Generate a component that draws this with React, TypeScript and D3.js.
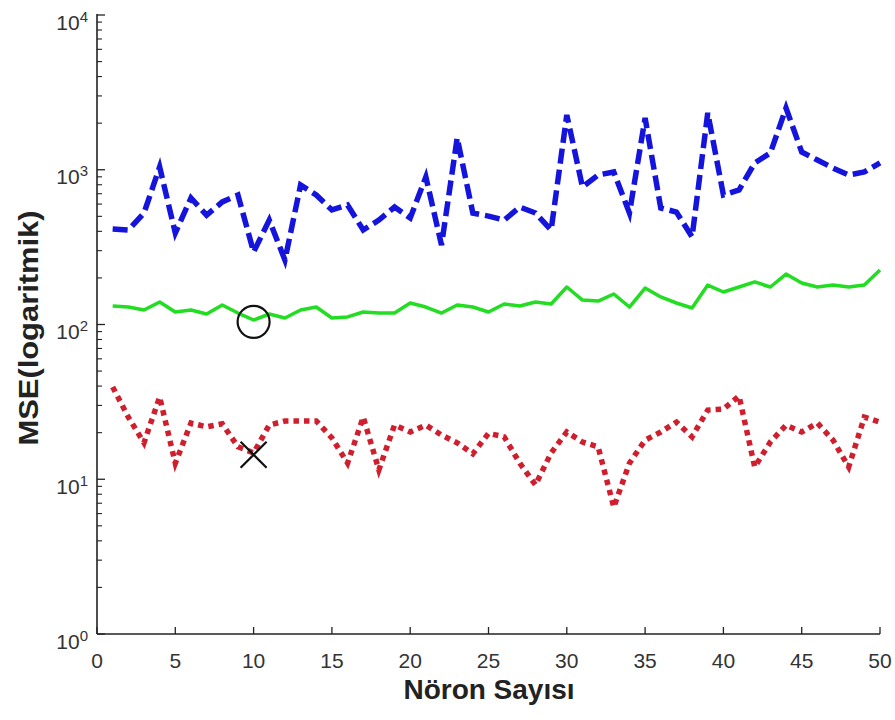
import React, { useEffect, useRef } from "react";
import * as d3 from "d3";

const neurons = d3.range(1, 51);
const blueSeries = [414, 408, 525, 1042, 390, 657, 509, 620, 687, 294, 473, 261, 797, 687, 550, 592, 408, 473, 574, 488, 898, 326, 1604, 525, 502, 473, 574, 525, 408, 2259, 774, 925, 967, 525, 2159, 566, 533, 368, 2328, 687, 740, 1106, 1283, 2506, 1303, 1156, 1026, 925, 967, 1106];
const greenSeries = [131.7, 129.7, 124.1, 139.9, 120.4, 124.1, 116.9, 133.6, 118.6, 106.9, 116.9, 110.2, 124.1, 129.7, 110.2, 111.9, 120.4, 118.6, 118.6, 137.7, 129.7, 118.6, 133.6, 129.7, 120.4, 135.7, 131.7, 139.9, 135.7, 174.7, 143.9, 141.8, 157.4, 129.7, 172.1, 150.6, 137.7, 127.8, 179.9, 162.2, 174.7, 188.4, 174.7, 211.8, 185.4, 174.7, 179.9, 174.7, 179.9, 225];
const redSeries = [39.5, 25.2, 17.2, 34.0, 12.7, 23.1, 21.8, 22.8, 16.2, 14.8, 22.4, 23.8, 23.8, 23.8, 18.5, 12.7, 25.2, 11.5, 22.4, 20.2, 22.4, 19.3, 17.2, 14.6, 19.8, 18.8, 12.7, 9.2, 14.8, 20.2, 17.4, 16.2, 6.6, 12.7, 17.9, 20.2, 23.4, 18.8, 28.0, 28.4, 34.5, 12.0, 17.4, 22.4, 20.2, 23.1, 17.9, 12.0, 25.2, 23.4];
const circleMark = { x: 10, y: 104 };
const crossMark = { x: 10, y: 14.4 };
const xTicks = [0, 5, 10, 15, 20, 25, 30, 35, 40, 45, 50];
const yDecades = [0, 1, 2, 3, 4];
const xLabel = "Nöron Sayısı";
const yLabel = "MSE(logaritmik)";

export default function App() {
  const ref = useRef<SVGSVGElement>(null);
  useEffect(() => {
    const svg = d3.select(ref.current);
    svg.selectAll("*").remove();
    const left = 97, right = 880, top = 15, bottom = 634;
    const x = d3.scaleLinear().domain([0, 50]).range([left, right]);
    const y = d3.scaleLog().domain([1, 10000]).range([bottom, top]);
    const font = "Liberation Sans, Arial, sans-serif";

    const line = d3.line<number>().x((_, i) => x(neurons[i])).y((d) => y(d));

    svg.append("path").attr("d", line(greenSeries)).attr("fill", "none")
      .attr("stroke", "#22dd22").attr("stroke-width", 3.5).attr("stroke-linejoin", "round");
    svg.append("path").attr("d", line(blueSeries)).attr("fill", "none")
      .attr("stroke", "#1414dc").attr("stroke-width", 5.5).attr("stroke-dasharray", "15,6");
    svg.append("path").attr("d", line(redSeries)).attr("fill", "none")
      .attr("stroke", "#cf1f2e").attr("stroke-width", 5.5).attr("stroke-dasharray", "5.5,5");

    // markers
    svg.append("circle").attr("cx", x(circleMark.x)).attr("cy", y(circleMark.y)).attr("r", 16)
      .attr("fill", "none").attr("stroke", "#111").attr("stroke-width", 2.2);
    const cx = x(crossMark.x), cy = y(crossMark.y), s = 13;
    svg.append("path").attr("d", `M${cx - s},${cy - s}L${cx + s},${cy + s}M${cx - s},${cy + s}L${cx + s},${cy - s}`)
      .attr("stroke", "#111").attr("stroke-width", 2.2);

    // axes lines
    const g = svg.append("g");
    g.append("line").attr("x1", left).attr("x2", left).attr("y1", top - 1).attr("y2", bottom)
      .attr("stroke", "#222").attr("stroke-width", 1.6);
    g.append("line").attr("x1", left).attr("x2", right).attr("y1", bottom).attr("y2", bottom)
      .attr("stroke", "#222").attr("stroke-width", 1.6);

    // x ticks
    xTicks.forEach((t) => {
      g.append("line").attr("x1", x(t)).attr("x2", x(t)).attr("y1", bottom).attr("y2", bottom - 7)
        .attr("stroke", "#222").attr("stroke-width", 1.3);
      g.append("text").attr("x", x(t)).attr("y", bottom + 34).attr("text-anchor", "middle")
        .attr("font-family", font).attr("font-size", 21).attr("fill", "#333").text(String(t));
    });

    // y ticks (major + minor)
    yDecades.forEach((p) => {
      const v = Math.pow(10, p);
      g.append("line").attr("x1", left).attr("x2", left + 8).attr("y1", y(v)).attr("y2", y(v))
        .attr("stroke", "#222").attr("stroke-width", 1.3);
      if (p < 4) {
        for (let m = 2; m <= 9; m++) {
          g.append("line").attr("x1", left).attr("x2", left + 5).attr("y1", y(v * m)).attr("y2", y(v * m))
            .attr("stroke", "#222").attr("stroke-width", 1.1);
        }
      }
      const tx = g.append("text").attr("x", 88).attr("y", y(v) + 14.5).attr("text-anchor", "end")
        .attr("font-family", font).attr("font-size", 21).attr("fill", "#333");
      tx.append("tspan").text("10");
      tx.append("tspan").attr("dy", -8).attr("font-size", 15).text(String(p));
    });

    // axis labels
    svg.append("text").attr("x", 489).attr("y", 699).attr("text-anchor", "middle")
      .attr("font-family", font).attr("font-size", 28).attr("font-weight", "bold").attr("fill", "#222")
      .text(xLabel);
    svg.append("text").attr("transform", `translate(38,328) rotate(-90)`).attr("text-anchor", "middle")
      .attr("font-family", font).attr("font-size", 28).attr("font-weight", "bold").attr("fill", "#222")
      .attr("textLength", 235).attr("lengthAdjust", "spacingAndGlyphs")
      .text(yLabel);
  }, []);
  return (
    <svg ref={ref} width={895} height={720}
      style={{ position: "absolute", left: 0, top: 0, background: "#fff" }} />
  );
}
